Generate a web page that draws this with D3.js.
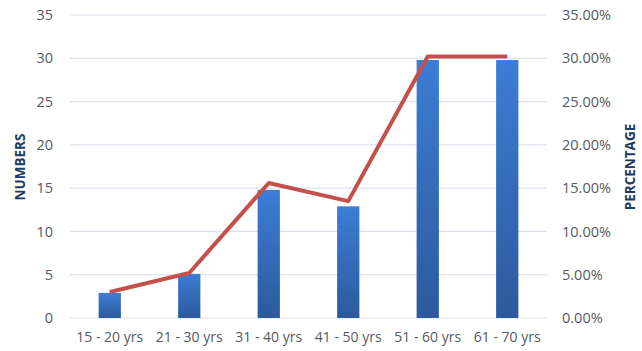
<!DOCTYPE html>
<html><head><meta charset="utf-8">
<script src="https://cdn.jsdelivr.net/npm/d3@7"></script>
<style>body{margin:0;background:#fff}svg{display:block}text{font-family:"Open Sans",sans-serif}</style>
</head><body><svg id="c" width="642" height="351"></svg>
<script>
const categories = ["15 - 20 yrs","21 - 30 yrs","31 - 40 yrs","41 - 50 yrs","51 - 60 yrs","61 - 70 yrs"];
const numbers = [2.9, 5.1, 14.8, 12.9, 29.8, 29.8];
const percentages = [0.030, 0.052, 0.156, 0.135, 0.302, 0.302];
const leftTicks = [0,5,10,15,20,25,30,35];
const rightTicks = [0,0.05,0.10,0.15,0.20,0.25,0.30,0.35];

const svg = d3.select("#c");
const m = {l:70, r:95, t:15, b:33};
const W = 642, H = 351;
const x = d3.scaleBand().domain(categories).range([m.l, W-m.r]).paddingInner(0.72).paddingOuter(0.36);
const y = d3.scaleLinear().domain([0,35]).range([H-m.b, m.t]);
const y2 = d3.scaleLinear().domain([0,0.35]).range([H-m.b, m.t]);

const defs = svg.append("defs");
const g = defs.append("linearGradient").attr("id","bg").attr("x1",0).attr("y1",0).attr("x2",0).attr("y2",1);
g.append("stop").attr("offset","0%").attr("stop-color","#3c7dd6");
g.append("stop").attr("offset","100%").attr("stop-color","#2c5a9c");

// grid
svg.append("g").selectAll("line").data(leftTicks).join("line")
  .attr("x1", m.l).attr("x2", W-m.r)
  .attr("y1", d=>y(d)).attr("y2", d=>y(d))
  .attr("stroke","#dde4ee").attr("stroke-width",1.2);

// left axis
const la = svg.append("g").attr("transform",`translate(${m.l},0)`)
  .call(d3.axisLeft(y).tickValues(leftTicks).tickSize(0).tickPadding(17));
la.select(".domain").remove();
la.selectAll("text").attr("fill","#555a62").style("font-size","14.5px");

// right axis
const ra = svg.append("g").attr("transform",`translate(${W-m.r},0)`)
  .call(d3.axisRight(y2).tickValues(rightTicks).tickSize(0).tickPadding(15).tickFormat(d3.format(".2%")));
ra.select(".domain").remove();
ra.selectAll("text").attr("fill","#555a62").style("font-size","14.5px");

// x axis
const xa = svg.append("g").attr("transform",`translate(0,${H-m.b})`)
  .call(d3.axisBottom(x).tickSize(0).tickPadding(14));
xa.select(".domain").remove();
xa.selectAll("text").attr("fill","#555a62").style("font-size","14px");

// bars
svg.append("g").selectAll("rect").data(numbers).join("rect")
  .attr("x",(d,i)=>x(categories[i])).attr("width",x.bandwidth())
  .attr("y",d=>y(d)).attr("height",d=>y(0)-y(d))
  .attr("fill","url(#bg)");

// line
const line = d3.line().x((d,i)=>x(categories[i])+x.bandwidth()/2).y(d=>y2(d));
svg.append("path").datum(percentages).attr("d",line)
  .attr("fill","none").attr("stroke","#c4504c").attr("stroke-width",4).attr("stroke-linejoin","round");

// titles
svg.append("text").attr("transform","translate(25,167) rotate(-90)").attr("text-anchor","middle")
  .attr("fill","#1f3a64").style("font-size","13.5px").style("font-weight","bold").text("NUMBERS");
svg.append("text").attr("transform","translate(635,167) rotate(-90)").attr("text-anchor","middle")
  .attr("fill","#1f3a64").style("font-size","13.5px").style("font-weight","bold").text("PERCENTAGE");
</script></body></html>
